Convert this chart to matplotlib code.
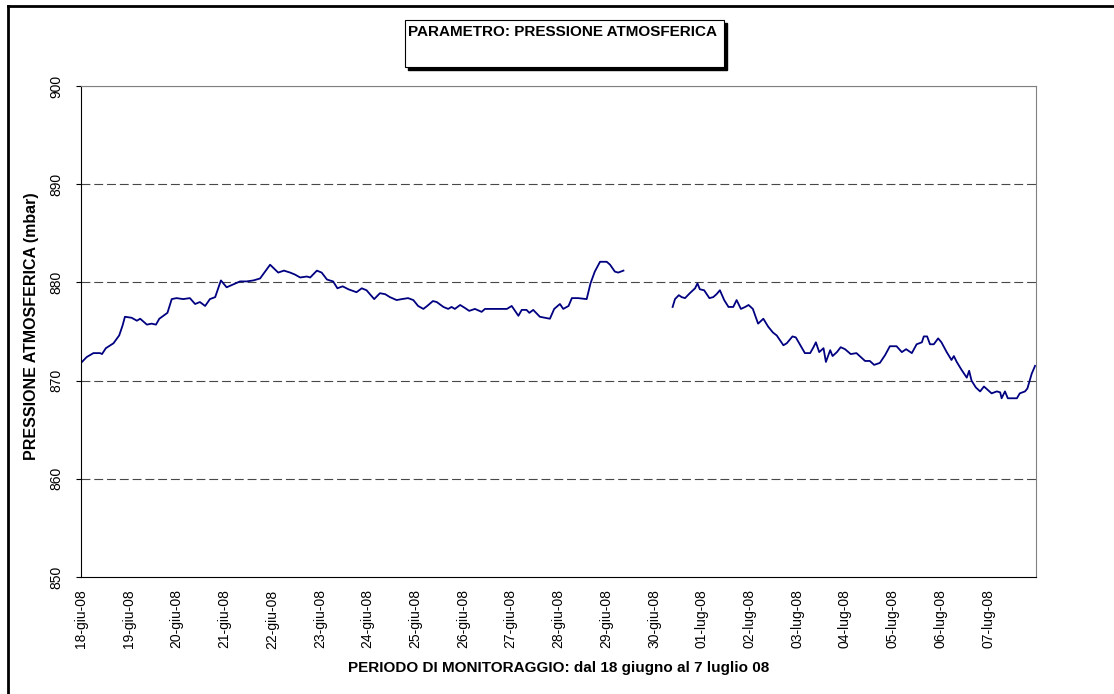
import numpy as np
import matplotlib
matplotlib.use("Agg")
import matplotlib.pyplot as plt
from matplotlib.lines import Line2D
from matplotlib.patches import Rectangle

plt.rcParams['font.family'] = ['Liberation Sans', 'DejaVu Sans']

# ---- data ----
# time in days since 18-giu-08 00:00, pressure in mbar (NaN = missing data)
giorni = [0.00, 0.12, 0.26, 0.40, 0.44, 0.52, 0.68, 0.80, 0.87, 0.92, 1.06, 1.17, 1.24, 1.38,
          1.48, 1.57, 1.64, 1.81, 1.90, 2.00, 2.14, 2.28, 2.39, 2.49, 2.60, 2.70, 2.81, 2.93,
          3.05, 3.19, 3.33, 3.47, 3.61, 3.75, 3.96, 4.13, 4.25, 4.38, 4.48, 4.59, 4.73, 4.80,
          4.94, 5.04, 5.15, 5.21, 5.28, 5.37, 5.48, 5.60, 5.77, 5.88, 5.98, 6.14, 6.26, 6.37,
          6.47, 6.61, 6.72, 6.85, 6.96, 7.06, 7.17, 7.25, 7.37, 7.45, 7.59, 7.69, 7.76, 7.83,
          7.94, 8.04, 8.13, 8.25, 8.39, 8.46, 8.63, 8.77, 8.92, 9.02, 9.16, 9.23, 9.33, 9.39,
          9.47, 9.61, 9.72, 9.82, 9.91, 10.03, 10.10, 10.21, 10.28, 10.41, 10.59, 10.67, 10.76,
          10.87, 11.01, 11.08, 11.18, 11.25, 11.36,
          11.90,
          12.39, 12.44, 12.52, 12.58, 12.65, 12.75, 12.86, 12.91, 12.96, 13.05, 13.16, 13.24,
          13.31, 13.38, 13.47, 13.56, 13.66, 13.73, 13.82, 13.91, 13.98, 14.07, 14.18, 14.29,
          14.39, 14.49, 14.57, 14.71, 14.78, 14.90, 14.97, 15.16, 15.27, 15.34, 15.39, 15.46,
          15.55, 15.60, 15.69, 15.74, 15.83, 15.91, 16.00, 16.12, 16.24, 16.42, 16.52, 16.61,
          16.73, 16.84, 16.94, 17.08, 17.19, 17.28, 17.40, 17.50, 17.61, 17.65, 17.72, 17.78,
          17.86, 17.95, 18.02, 18.13, 18.23, 18.28, 18.34, 18.44, 18.55, 18.60, 18.65, 18.74,
          18.83, 18.91, 18.98, 19.07, 19.18, 19.25, 19.28, 19.35, 19.41, 19.52, 19.60, 19.66,
          19.77, 19.82, 19.91, 19.98]
pressione = [871.8, 872.4, 872.8, 872.8, 872.7, 873.3, 873.8, 874.6, 875.6, 876.5, 876.4, 876.1,
             876.3, 875.7, 875.8, 875.7, 876.3, 876.9, 878.3, 878.4, 878.3, 878.4, 877.8, 878.0,
             877.6, 878.3, 878.5, 880.2, 879.5, 879.8, 880.1, 880.1, 880.2, 880.4, 881.8, 881.0,
             881.2, 881.0, 880.8, 880.5, 880.6, 880.5, 881.2, 881.0, 880.3, 880.2, 880.1, 879.4,
             879.6, 879.3, 879.0, 879.4, 879.2, 878.3, 878.9, 878.8, 878.5, 878.2, 878.3, 878.4,
             878.2, 877.6, 877.3, 877.6, 878.1, 878.0, 877.5, 877.3, 877.5, 877.3, 877.7, 877.4,
             877.1, 877.3, 877.0, 877.3, 877.3, 877.3, 877.3, 877.6, 876.6, 877.2, 877.2, 876.9,
             877.2, 876.5, 876.4, 876.3, 877.3, 877.8, 877.3, 877.6, 878.4, 878.4, 878.3, 879.9,
             881.1, 882.1, 882.1, 881.8, 881.1, 881.0, 881.2,
             np.nan,
             877.5, 878.3, 878.7, 878.5, 878.4, 878.9, 879.4, 879.9, 879.3, 879.2, 878.4, 878.5,
             878.8, 879.2, 878.2, 877.5, 877.5, 878.2, 877.3, 877.5, 877.7, 877.3, 875.8, 876.3,
             875.5, 874.9, 874.6, 873.6, 873.8, 874.5, 874.4, 872.8, 872.8, 873.4, 873.9, 872.9,
             873.3, 871.9, 873.1, 872.5, 872.9, 873.4, 873.2, 872.7, 872.8, 872.0, 872.0, 871.6,
             871.8, 872.6, 873.5, 873.5, 872.9, 873.2, 872.8, 873.7, 873.9, 874.5, 874.5, 873.7,
             873.7, 874.3, 873.9, 872.9, 872.1, 872.5, 871.9, 871.1, 870.3, 871.0, 870.0, 869.3,
             868.9, 869.4, 869.1, 868.7, 868.9, 868.8, 868.2, 868.9, 868.2, 868.2, 868.2, 868.7,
             868.9, 869.2, 870.7, 871.5]
etichette_date = ['18-giu-08', '19-giu-08', '20-giu-08', '21-giu-08', '22-giu-08', '23-giu-08',
                  '24-giu-08', '25-giu-08', '26-giu-08', '27-giu-08', '28-giu-08', '29-giu-08',
                  '30-giu-08', '01-lug-08', '02-lug-08', '03-lug-08', '04-lug-08', '05-lug-08',
                  '06-lug-08', '07-lug-08']
valori_y = [850, 860, 870, 880, 890, 900]

titolo = 'PARAMETRO: PRESSIONE ATMOSFERICA'
etichetta_y = 'PRESSIONE ATMOSFERICA (mbar)'
etichetta_x = 'PERIODO DI MONITORAGGIO: dal 18 giugno al 7 luglio 08'

# ---- figure ----
W, H = 1114, 694
fig = plt.figure(figsize=(W / 100, H / 100), dpi=100)
fig.patch.set_facecolor('white')

left, right, top, bottom = 81, 1036, 86, 577
ax = fig.add_axes([left / W, 1 - bottom / H, (right - left) / W, (bottom - top) / H])

ax.plot(giorni, pressione, color='#000080', linewidth=1.3)

ax.set_xlim(0, 20)
ax.set_ylim(850, 900)
ax.set_yticks(valori_y)
ax.set_yticklabels([str(v) for v in valori_y], rotation=90, va='center', fontsize=10)
ax.set_xticks(np.arange(len(etichette_date)))
ax.set_xticklabels(etichette_date, rotation=90, fontsize=10)
ax.tick_params(axis='x', length=0, pad=9)
ax.tick_params(axis='y', length=3.6, width=0.8, pad=9, direction='out')

for v in valori_y[1:-1]:
    ax.axhline(v, color='#484848', linewidth=0.8, linestyle=(0, (8, 3.5)), zorder=0)
ax.axhline(900, color='#808080', linewidth=0.8, zorder=0)

for s in ['top', 'right']:
    ax.spines[s].set_color('#808080')
    ax.spines[s].set_linewidth(0.8)
for s in ['left', 'bottom']:
    ax.spines[s].set_color('black')
    ax.spines[s].set_linewidth(0.8)

ax.set_ylabel(etichetta_y, fontsize=11.5, fontweight='bold')
ax.yaxis.set_label_coords((32 - left) / (right - left), 0.51)
ax.yaxis.label.set_va('center')
ax.set_xlabel(etichetta_x, fontsize=11, fontweight='bold')
ax.xaxis.set_label_coords(0.5, -(668 - bottom) / (bottom - top))
ax.xaxis.label.set_va('center')

# title box with shadow
bx0, by0, bx1, by1 = 405, 20, 724, 67
fig.patches.append(Rectangle((bx0 / W + 3 / W, 1 - (by1 + 3) / H), (bx1 - bx0) / W, (by1 - by0) / H,
                             transform=fig.transFigure, facecolor='black', edgecolor='black', zorder=1))
fig.patches.append(Rectangle((bx0 / W, 1 - by1 / H), (bx1 - bx0) / W, (by1 - by0) / H,
                             transform=fig.transFigure, facecolor='white', edgecolor='black',
                             linewidth=0.8, zorder=2))
fig.text(408 / W, 1 - 32 / H, titolo, fontsize=11, fontweight='bold', ha='left', va='center', zorder=3)

# outer frame (left and top edges visible)
fig.add_artist(Line2D([8 / W, 8 / W], [0, 1 - 6 / H], transform=fig.transFigure, color='black', linewidth=2))
fig.add_artist(Line2D([8 / W, 1], [1 - 6 / H, 1 - 6 / H], transform=fig.transFigure, color='black', linewidth=2))

fig.savefig('out.png', dpi=100, facecolor='white')
